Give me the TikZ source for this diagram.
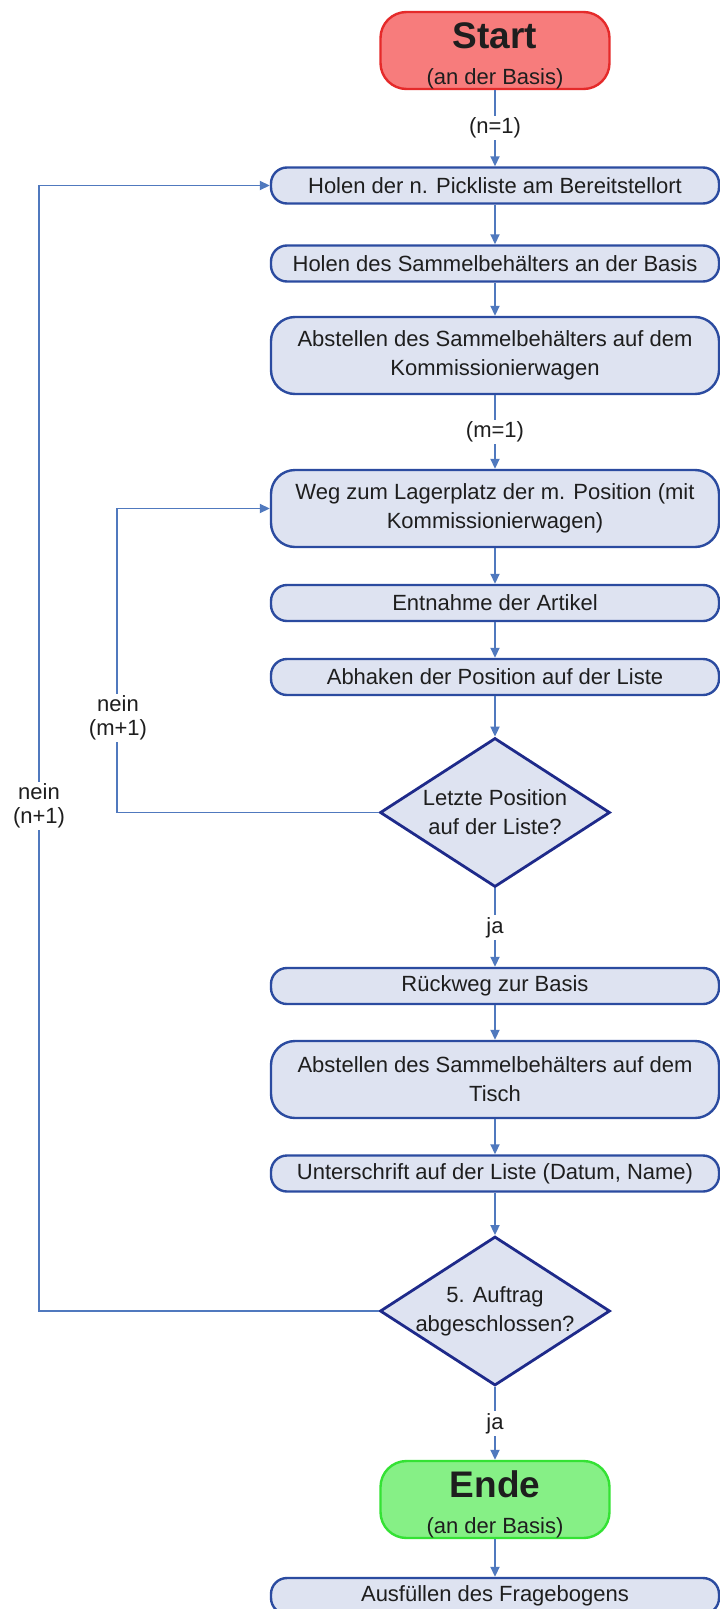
\documentclass[tikz,border=0pt]{standalone}
\usepackage{fontspec}
\setmainfont{Liberation Sans}
\usetikzlibrary{arrows.meta,shapes.geometric}

\definecolor{flowline}{HTML}{5079BE}
\definecolor{boxline}{HTML}{2B4BA0}
\definecolor{boxfill}{HTML}{DEE3F1}
\definecolor{decline}{HTML}{1E2A8A}
\definecolor{startfill}{HTML}{F77C7C}
\definecolor{startline}{HTML}{E52A2A}
\definecolor{endfill}{HTML}{86F086}
\definecolor{endline}{HTML}{34E234}
\definecolor{textc}{HTML}{1E1E1E}

\tikzset{
  base/.style={font=\fontsize{22bp}{29bp}\selectfont, text=textc, align=center, inner sep=0pt},
  stepbox/.style={base, draw=boxline, fill=boxfill, line width=2.4bp, rounded corners=16bp,
                  minimum width=448bp, minimum height=36bp},
  bigbox/.style={stepbox, rounded corners=24bp, minimum height=77bp},
  % the diamond keeps a fixed size; its question is set as a centred label
  decision/.style={shape=diamond, draw=decline, fill=boxfill, line width=2.8bp, inner sep=0pt,
                   minimum width=230bp, minimum height=149bp,
                   label={[base, font=\fontsize{22bp}{29bp}\selectfont]center:#1}},
  terminal/.style={base, font=\fontsize{22bp}{36bp}\selectfont, rounded corners=26bp,
                   minimum width=229bp, minimum height=77bp, line width=2.4bp},
  flow/.style={draw=flowline, line width=1.8bp, -{Triangle[length=10bp,width=9bp]}},
  lbl/.style={base, font=\fontsize{22bp}{24bp}\selectfont, fill=white, inner sep=2bp},
}
% big bold title line of a terminal node, with a strut that lowers the text block
\newcommand{\termtitle}[1]{{\fontsize{37bp}{40bp}\selectfont\bfseries\rule{0pt}{36bp}#1}}

\begin{document}
\begin{tikzpicture}[x=1bp, y=-1bp]
  \useasboundingbox (0,0) rectangle (720,1609);
  \fill[white] (0,0) rectangle (720,1609);

  % process steps, top to bottom
  \node[terminal, fill=startfill, draw=startline] (start) at (495,50.5)
    {\termtitle{Start}\\(an der Basis)};
  \node[stepbox] (h1) at (495,185.5) {Holen der n. Pickliste am Bereitstellort};
  \node[stepbox] (h2) at (495,263.5) {Holen des Sammelbehälters an der Basis};
  \node[bigbox]  (a1) at (495,355.5) {Abstellen des Sammelbehälters auf dem\\Kommissionierwagen};
  \node[bigbox]  (weg) at (495,508.5) {Weg zum Lagerplatz der m. Position (mit\\Kommissionierwagen)};
  \node[stepbox] (ent) at (495,603) {Entnahme der Artikel};
  \node[stepbox] (abh) at (495,677) {Abhaken der Position auf der Liste};
  \node[decision={Letzte Position\\auf der Liste?}] (d1) at (495,812.5) {};
  \node[stepbox] (rueck) at (495,986) {Rückweg zur Basis};
  \node[bigbox]  (a2) at (495,1079.5) {Abstellen des Sammelbehälters auf dem\\Tisch};
  \node[stepbox] (unt) at (495,1173.5) {Unterschrift auf der Liste (Datum, Name)};
  \node[decision={5. Auftrag\\abgeschlossen?}] (d2) at (495,1311) {};
  \node[terminal, fill=endfill, draw=endline] (ende) at (495,1499.5)
    {\termtitle{Ende}\\(an der Basis)};
  \node[stepbox] (fb) at (495,1596) {Ausfüllen des Fragebogens};

  % main flow
  \draw[flow] (start) -- node[lbl] {(n=1)} (h1);
  \draw[flow] (h1) -- (h2);
  \draw[flow] (h2) -- (a1);
  \draw[flow] (a1) -- node[lbl] {(m=1)} (weg);
  \draw[flow] (weg) -- (ent);
  \draw[flow] (ent) -- (abh);
  \draw[flow] (abh) -- (d1);
  \draw[flow] (d1) -- node[lbl] {ja} (rueck);
  \draw[flow] (rueck) -- (a2);
  \draw[flow] (a2) -- (unt);
  \draw[flow] (unt) -- (d2);
  \draw[flow] (d2) -- node[lbl] {ja} (ende);
  \draw[flow] (ende) -- (fb);

  % loop back to the next position
  \coordinate (mleft) at (117,812.5);
  \draw[flow] (d1.west) -- (mleft) |- (weg.west);
  \node[lbl] (mlbl) at (118,718) {nein\\(m+1)};

  % loop back to the next pick list
  \coordinate (nleft) at (39,1311);
  \draw[flow] (d2.west) -- (nleft) |- (h1.west);
  \node[lbl] (nlbl) at (39,806) {nein\\(n+1)};
\end{tikzpicture}
\end{document}
